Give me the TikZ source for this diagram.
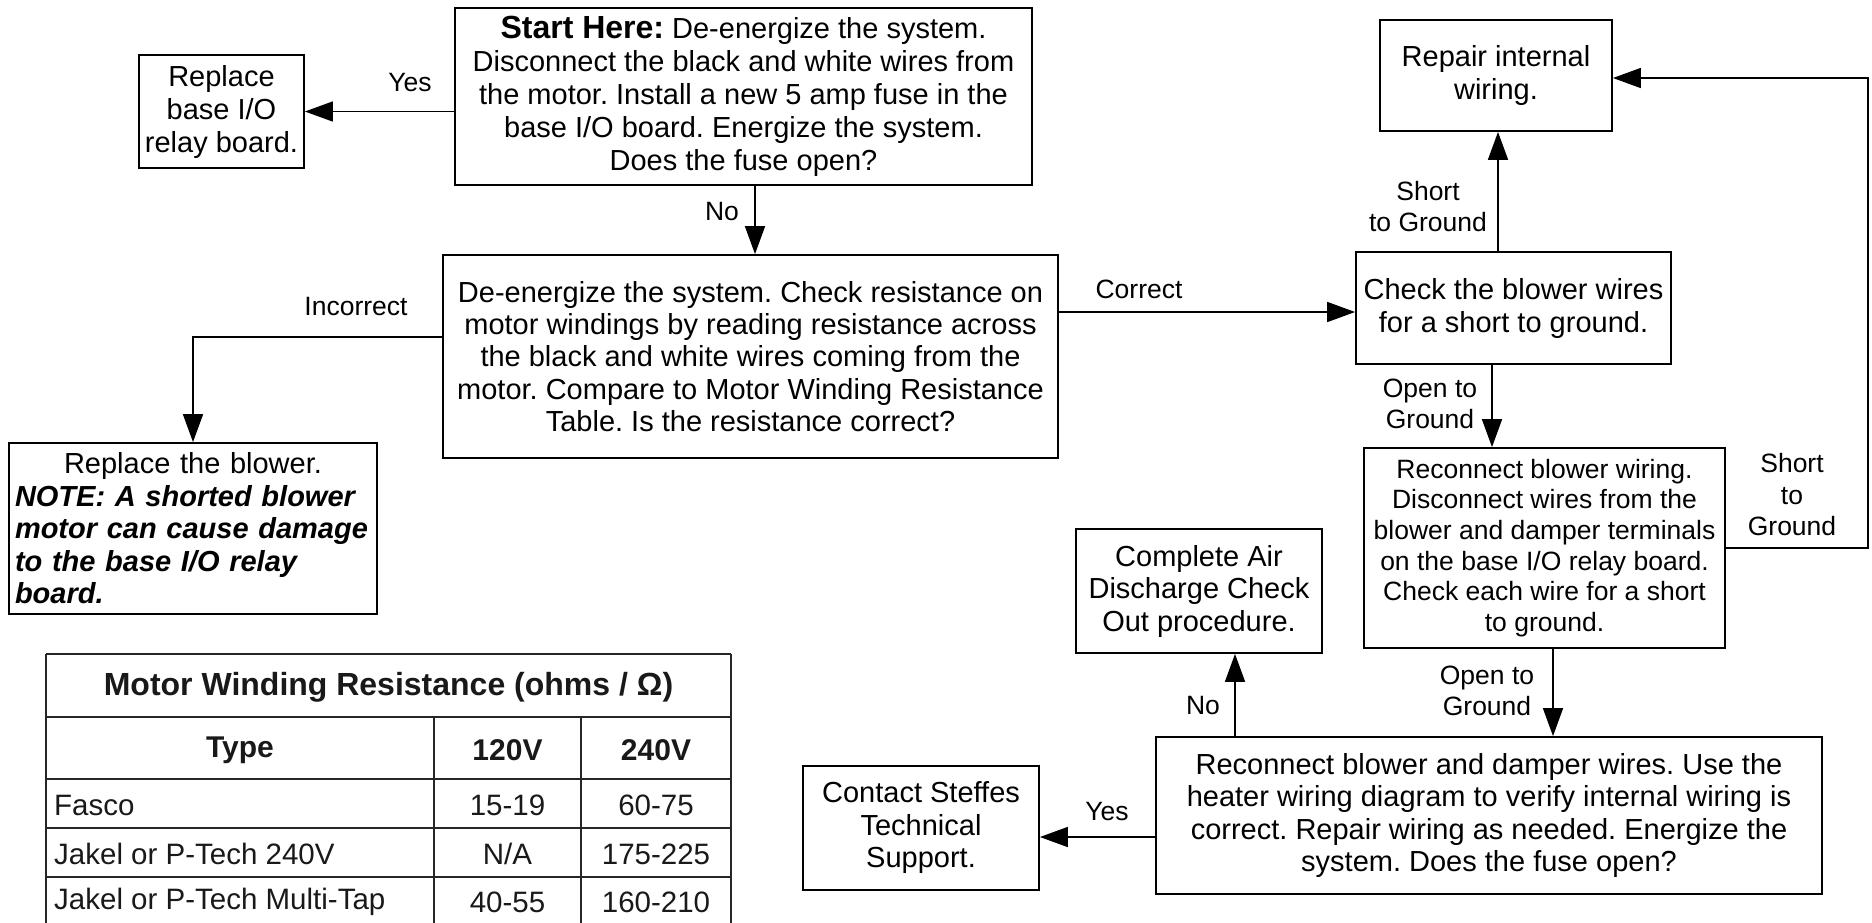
\documentclass[tikz,border=0pt]{standalone}
\usepackage{fontspec}
\setmainfont{Liberation Sans}
\usetikzlibrary{arrows.meta,calc}
\frenchspacing
\begin{document}
\begin{tikzpicture}[x=1pt,y=-1pt,
  box/.style={draw, line width=1.8pt, inner sep=0pt, align=center, font=\fontsize{29}{33}\selectfont},
  lbl/.style={align=center, inner sep=0pt, font=\fontsize{26.5}{31}\selectfont},
  arr/.style={line width=1.6pt, -{Triangle[length=28pt,width=20pt]}},
  tbl/.style={line width=2.6pt, draw=black!85},
  thd/.style={inner sep=0pt, font=\fontsize{30}{34}\selectfont\bfseries, text=black!90},
  tcell/.style={inner sep=0pt, font=\fontsize{29.5}{34}\selectfont, text=black!90},
]
\useasboundingbox (0,0) rectangle (1872,922);

% boxes
\node[box, minimum width=577pt, minimum height=177pt] (start) at (743.5,96.5)
  {{\fontsize{32}{33}\selectfont\bfseries Start Here:} De-energize the system.\\Disconnect the black and white wires from\\the motor. Install a new 5 amp fuse in the\\base I/O board. Energize the system.\\Does the fuse open?};
\node[box, minimum width=165pt, minimum height=113pt] (replbase) at (221.5,111.5)
  {Replace\\base I/O\\relay board.};
\node[box, font=\fontsize{29}{32.3}\selectfont, minimum width=615pt, minimum height=203pt] (check) at (750.5,356.5)
  {De-energize the system. Check resistance on\\motor windings by reading resistance across\\the black and white wires coming from the\\motor. Compare to Motor Winding Resistance\\Table. Is the resistance correct?};
\node[draw, line width=1.8pt, inner xsep=6pt, inner ysep=0pt, text width=356pt, minimum height=171pt, font=\fontsize{29}{32.5}\selectfont] (replblower) at (193,528.5)
  {\centering Replace the blower.\par\raggedright\bfseries\itshape NOTE: A shorted blower\\motor can cause damage\\to the base I/O relay\\board.\par};
\node[box, minimum width=232pt, minimum height=111pt] (repair) at (1496,75.5)
  {Repair internal\\wiring.};
\node[box, minimum width=315pt, minimum height=112pt] (blower) at (1513.5,308)
  {Check the blower wires\\for a short to ground.};
\node[box, font=\fontsize{26.5}{30.7}\selectfont, minimum width=361pt, minimum height=200pt] (reconn) at (1544.5,548)
  {Reconnect blower wiring.\\Disconnect wires from the\\blower and damper terminals\\on the base I/O relay board.\\Check each wire for a short\\to ground.};
\node[box, font=\fontsize{29}{32.5}\selectfont, minimum width=246pt, minimum height=124pt] (complete) at (1199,591)
  {Complete Air\\Discharge Check\\Out procedure.};
\node[box, font=\fontsize{29}{32.5}\selectfont, minimum width=666pt, minimum height=157pt] (reconn2) at (1489,815.5)
  {Reconnect blower and damper wires. Use the\\heater wiring diagram to verify internal wiring is\\correct. Repair wiring as needed. Energize the\\system. Does the fuse open?};
\node[box, font=\fontsize{29}{32.5}\selectfont, minimum width=236pt, minimum height=124pt] (contact) at (921,828)
  {Contact Steffes\\Technical\\Support.};

% connectors
\draw[arr] (start.west |- replbase.east) -- (replbase.east);
\draw[arr] ([xshift=11.5pt]start.south) -- ([xshift=4.5pt]check.north);
\draw[arr] ([yshift=19.5pt]check.west) -| (replblower.north);
\draw[arr] ([yshift=44.5pt]check.east) -- ([yshift=44.5pt]check.east -| blower.west);
\draw[arr] ([xshift=-15.5pt]blower.north) -- ([xshift=-15.5pt]blower.north |- repair.south);
\draw[arr] ([xshift=-21.5pt]blower.south) -- ([xshift=-21.5pt]blower.south |- reconn.north);
\coordinate (loop) at (1868,78);
\draw[arr] (reconn.east) -| (loop) -- (loop -| repair.east);
\draw[arr] ([xshift=8.5pt]reconn.south) -- ([xshift=8.5pt]reconn.south |- reconn2.north);
\draw[arr] ([xshift=36pt]complete.south |- reconn2.north) -- ([xshift=36pt]complete.south);
\draw[arr] ([yshift=-21.5pt]reconn2.west) -- ([yshift=-21.5pt]reconn2.west -| contact.east);

% labels
\node[lbl] (lyes1) at (410,83) {Yes};
\node[lbl] (lno1) at (722,212) {No};
\node[lbl] (linc) at (356,307) {Incorrect};
\node[lbl] (lcor) at (1139,289) {Correct};
\node[lbl] (lsg1) at (1428,206.5) {Short\\to Ground};
\node[lbl] (log1) at (1430,404) {Open to\\Ground};
\node[lbl, font=\fontsize{26.5}{31.5}\selectfont] (lsg2) at (1792,495) {Short\\to\\Ground};
\node[lbl] (lno2) at (1203,706) {No};
\node[lbl] (log2) at (1487,691) {Open to\\Ground};
\node[lbl] (lyes2) at (1107,811) {Yes};

% table
\draw[tbl] (46,654) -- (731,654);
\draw[tbl] (46,654) -- (46,930);
\draw[tbl] (731,654) -- (731,930);
\draw[tbl] (46,717) -- (731,717);
\draw[tbl] (46,779) -- (731,779);
\draw[tbl] (46,828) -- (731,828);
\draw[tbl] (46,877) -- (731,877);
\draw[tbl] (434,717) -- (434,930);
\draw[tbl] (581,717) -- (581,930);
\node[thd, font=\fontsize{32}{34}\selectfont\bfseries] (ttitle) at (388.5,687) {Motor Winding Resistance (ohms / Ω)};
\node[thd] (ttype) at (240,750) {Type};
\node[thd] (t120) at (507.5,750) {120V};
\node[thd] (t240) at (656,750) {240V};
\node[tcell, anchor=west] (r1) at (54,805) {Fasco};
\node[tcell] (r1a) at (507.5,805) {15-19};
\node[tcell] (r1b) at (656,805) {60-75};
\node[tcell, anchor=west] (r2) at (54,854) {Jakel or P-Tech 240V};
\node[tcell] (r2a) at (507.5,854) {N/A};
\node[tcell] (r2b) at (656,854) {175-225};
\node[tcell, anchor=west] (r3) at (54,902) {Jakel or P-Tech Multi-Tap};
\node[tcell] (r3a) at (507.5,902) {40-55};
\node[tcell] (r3b) at (656,902) {160-210};
\end{tikzpicture}
\end{document}
